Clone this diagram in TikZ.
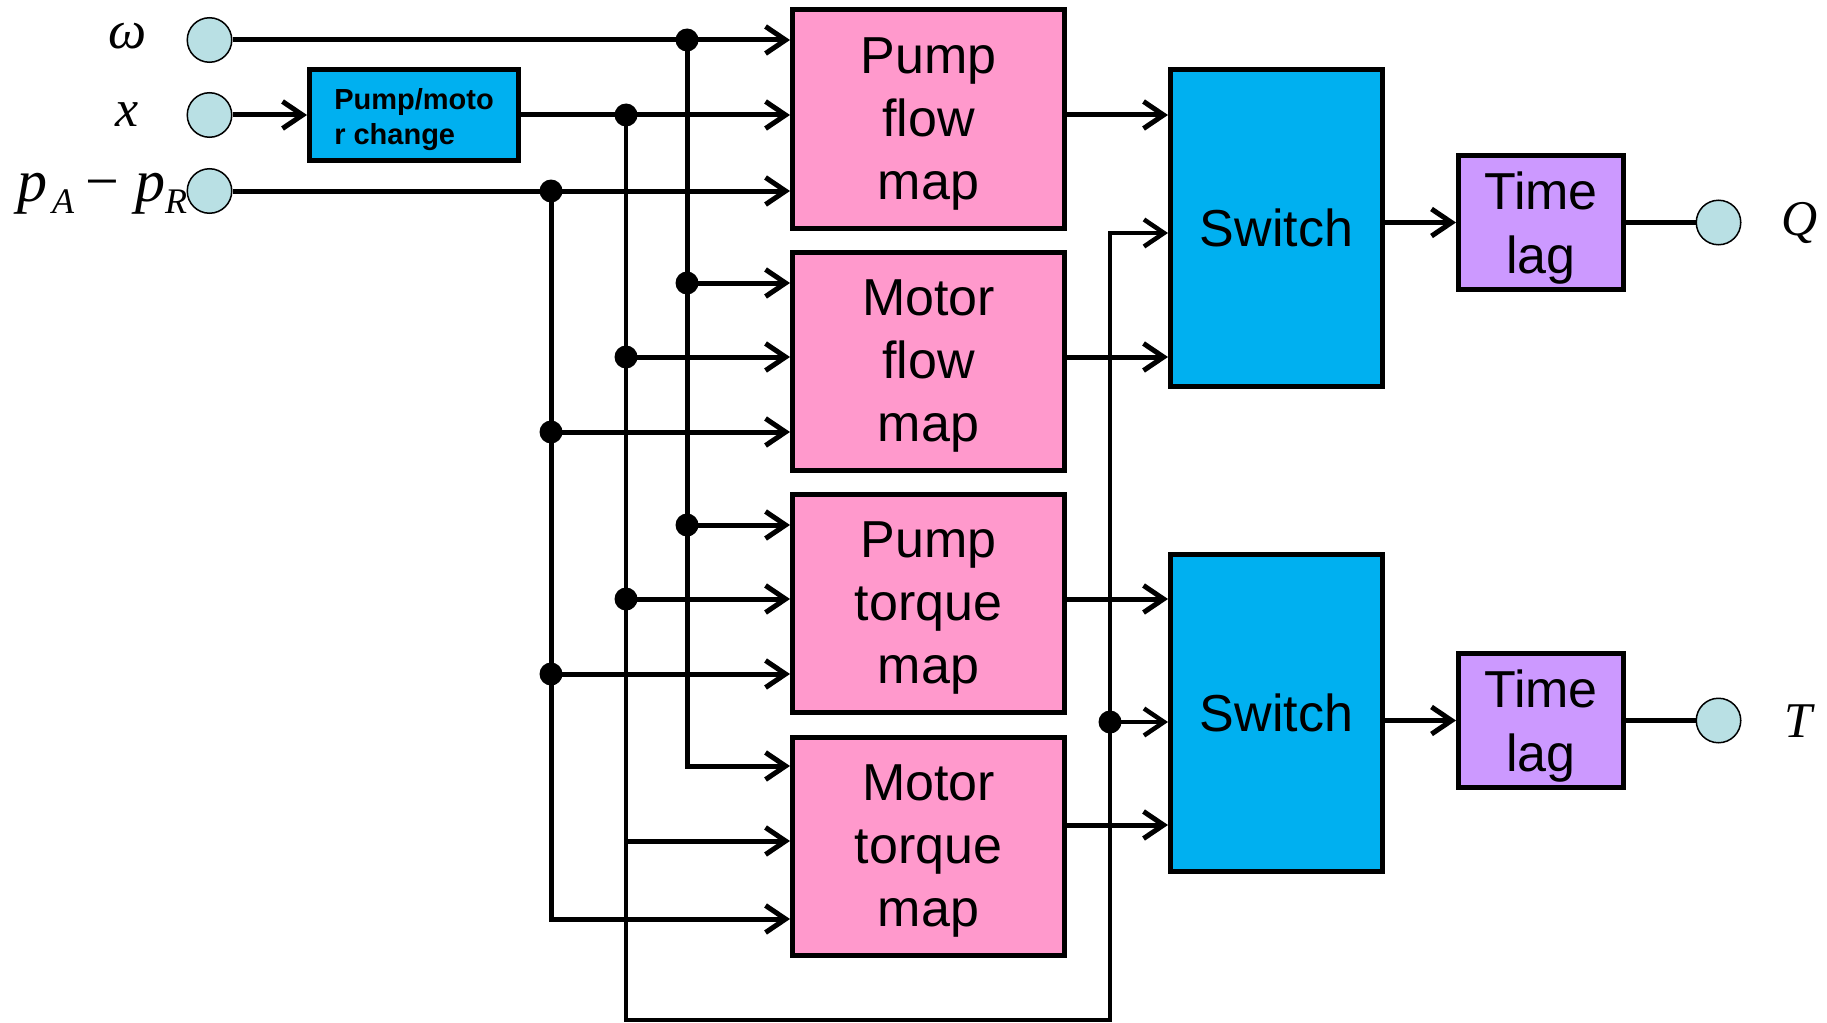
\documentclass[tikz,border=0pt]{standalone}
\usepackage{fontspec}
\setmainfont{Liberation Sans}
\newfontfamily\tms{Liberation Serif}
\usetikzlibrary{arrows.meta}
\definecolor{pinkc}{HTML}{FF99CC}
\definecolor{bluec}{HTML}{00B0F0}
\definecolor{purpc}{HTML}{CC99FF}
\definecolor{circc}{RGB}{185,224,228}
\newcommand{\zdp}[1]{\raisebox{0pt}[\height][0pt]{#1}}
\begin{document}
\begin{tikzpicture}[x=1pt,y=-1pt,
  wire/.style={line width=5pt},
  arr/.style={-{Straight Barb[length=20pt,width=27pt]}},
  mapbox/.style={draw,line width=5pt,fill=pinkc,minimum width=272pt,minimum height=218pt,inner sep=0pt,align=center,font=\fontsize{52}{63}\selectfont},
  swbox/.style={draw,line width=5pt,fill=bluec,minimum width=212pt,minimum height=317pt,inner sep=0pt,font=\fontsize{52}{63}\selectfont},
  lagbox/.style={draw,line width=5pt,fill=purpc,minimum width=165pt,minimum height=134pt,inner sep=0pt,align=center,font=\fontsize{52}{64}\selectfont},
  port/.style={circle,draw,line width=1.5pt,fill=circc,minimum size=44.5pt,inner sep=0pt},
  dot/.style={circle,fill=black,minimum size=23pt,inner sep=0pt},
  lbl/.style={inner sep=0pt,anchor=base}]
\fill[white] (0,0) rectangle (1827,1022);
\useasboundingbox (0,0) rectangle (1827,1022);

% blocks
\node[draw,line width=5pt,fill=bluec,minimum width=209pt,minimum height=90pt,inner sep=0pt,align=left,font=\bfseries\fontsize{29}{35}\selectfont] (pmc) at (414,115) {\raisebox{-3pt}{Pump/moto}\\\zdp{\raisebox{-3pt}{r change}}};
\node[mapbox] (b1) at (928.5,119) {Pump\\flow\\\zdp{map}};
\node[mapbox] (b2) at (928.5,361) {Motor\\flow\\\zdp{map}};
\node[mapbox] (b3) at (928.5,603) {Pump\\torque\\\zdp{map}};
\node[mapbox] (b4) at (928.5,846) {Motor\\torque\\\zdp{map}};
\node[swbox] (sw1) at (1276.5,228) {Switch};
\node[swbox] (sw2) at (1276.5,712.5) {Switch};
\node[lagbox] (tl1) at (1541,222.5) {Time\\\zdp{lag}};
\node[lagbox] (tl2) at (1541,720.5) {Time\\\zdp{lag}};

% ports
\node[port] (cw) at (209.5,40) {};
\node[port] (cx) at (209.5,115) {};
\node[port] (cp) at (209.5,191) {};
\node[port] (cq) at (1718.5,222.5) {};
\node[port] (ct) at (1718.5,720.5) {};

% labels
\node[lbl,font=\tms\itshape\fontsize{54}{54}\selectfont] (lw) at (128,49) {ω};
\node[lbl,font=\tms\itshape\fontsize{52}{52}\selectfont] (lx) at (127,127) {x};
\node[lbl,anchor=base west,font=\tms\itshape\fontsize{60}{60}\selectfont] (lp) at (17,201)
  {p\kern5pt\raisebox{-12pt}{\fontsize{36}{36}\selectfont A}\kern11pt{\upshape −}\kern16pt p\kern0pt\raisebox{-12pt}{\fontsize{36}{36}\selectfont R}};
\node[lbl,font=\tms\itshape\fontsize{50}{50}\selectfont] (lq) at (1800,235) {Q};
\node[lbl,font=\tms\itshape\fontsize{50}{50}\selectfont] (lt) at (1798,737) {T};

% junction coordinates
\coordinate (jw1) at (687,40);
\coordinate (jw2) at (687,283);
\coordinate (jw3) at (687,525);
\coordinate (jw4) at (687,766);
\coordinate (jx1) at (626,115);
\coordinate (jx2) at (626,357);
\coordinate (jx3) at (626,599);
\coordinate (jx4) at (626,841);
\coordinate (jx5) at (626,1020);
\coordinate (jx6) at (1110,1020);
\coordinate (jx7) at (1110,722);
\coordinate (jx8) at (1110,233);
\coordinate (jp1) at (551,191);
\coordinate (jp2) at (551,432);
\coordinate (jp3) at (551,674);
\coordinate (jp4) at (551,919);
\coordinate (y1) at (0,115);
\coordinate (y2) at (0,357);
\coordinate (y3) at (0,599);
\coordinate (y4) at (0,825);

% omega wires
\draw[wire,arr] (cw) -- (b1.west |- cw);
\draw[wire,arr] (jw1) -- (jw4) -- (b4.west |- jw4);
\draw[wire,arr] (jw2) -- (b2.west |- jw2);
\draw[wire,arr] (jw3) -- (b3.west |- jw3);
% x wires
\draw[wire,arr] (cx) -- (pmc);
\draw[wire,arr] (pmc) -- (b1.west |- pmc);
\draw[wire,arr] (jx2) -- (b2.west |- jx2);
\draw[wire,arr] (jx3) -- (b3.west |- jx3);
\draw[wire,arr] (jx4) -- (b4.west |- jx4);
\draw[line width=4.5pt,arr] (jx1) -- (jx5) -- (jx6) -- (jx8) -- (sw1.west |- jx8);
\draw[line width=4.5pt,arr] (jx7) -- (sw2.west |- jx7);
% p wires
\draw[wire,arr] (cp) -- (b1.west |- cp);
\draw[wire,arr] (jp1) -- (jp4) -- (b4.west |- jp4);
\draw[wire,arr] (jp2) -- (b2.west |- jp2);
\draw[wire,arr] (jp3) -- (b3.west |- jp3);
% map outputs
\draw[wire,arr] (b1.east |- y1) -- (sw1.west |- y1);
\draw[wire,arr] (b2.east |- y2) -- (sw1.west |- y2);
\draw[wire,arr] (b3.east |- y3) -- (sw2.west |- y3);
\draw[wire,arr] (b4.east |- y4) -- (sw2.west |- y4);
% switch outputs
\draw[wire,arr] (sw1.east |- tl1) -- (tl1);
\draw[wire,arr] (sw2.east |- tl2) -- (tl2);
\draw[wire] (tl1) -- (cq);
\draw[wire] (tl2) -- (ct);

% dots
\foreach \j in {jw1,jw2,jw3,jx1,jx2,jx3,jx7,jp1,jp2,jp3}
  \node[dot] (d\j) at (\j) {};
\end{tikzpicture}
\end{document}
